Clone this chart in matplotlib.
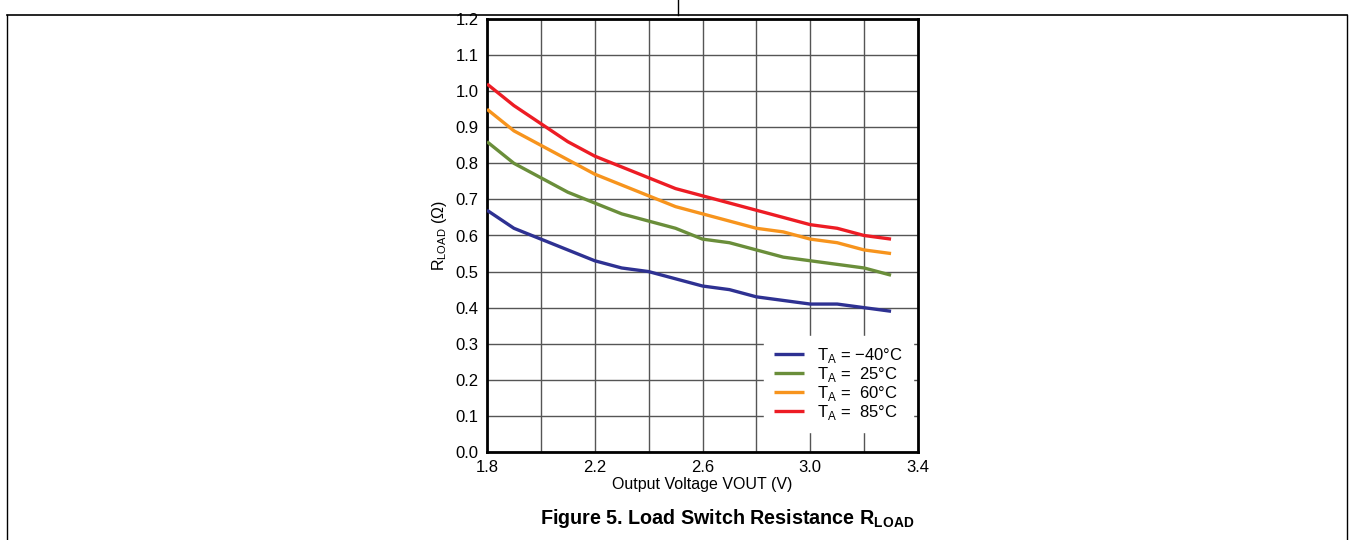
import numpy as np
import matplotlib
matplotlib.use("Agg")
import matplotlib.pyplot as plt
from matplotlib.lines import Line2D

plt.rcParams['font.family'] = ['Liberation Sans', 'DejaVu Sans']
plt.rcParams['mathtext.fontset'] = 'custom'
plt.rcParams['mathtext.rm'] = 'Liberation Sans'
plt.rcParams['mathtext.bf'] = 'Liberation Sans:bold'

vout = [1.8, 1.9, 2.0, 2.1, 2.2, 2.3, 2.4, 2.5, 2.6, 2.7, 2.8, 2.9, 3.0, 3.1, 3.2, 3.3]
r_m40 = [0.67, 0.62, 0.59, 0.56, 0.53, 0.51, 0.50, 0.48, 0.46, 0.45, 0.43, 0.42, 0.41, 0.41, 0.40, 0.39]
r_25 = [0.86, 0.80, 0.76, 0.72, 0.69, 0.66, 0.64, 0.62, 0.59, 0.58, 0.56, 0.54, 0.53, 0.52, 0.51, 0.49]
r_60 = [0.95, 0.89, 0.85, 0.81, 0.77, 0.74, 0.71, 0.68, 0.66, 0.64, 0.62, 0.61, 0.59, 0.58, 0.56, 0.55]
r_85 = [1.02, 0.96, 0.91, 0.86, 0.82, 0.79, 0.76, 0.73, 0.71, 0.69, 0.67, 0.65, 0.63, 0.62, 0.60, 0.59]

labels = [r'T$_{\rm A}$ = −40°C', r'T$_{\rm A}$ =  25°C', r'T$_{\rm A}$ =  60°C', r'T$_{\rm A}$ =  85°C']
colors = ['#2E3192', '#6A8E3A', '#F7941D', '#ED1C24']
series = [r_m40, r_25, r_60, r_85]

W, H = 1353, 540
fig = plt.figure(figsize=(W / 100, H / 100), dpi=100)

# page frame lines
fig.add_artist(Line2D([7 / W, 1347 / W], [1 - 15 / H, 1 - 15 / H], color='black', lw=1.2))
fig.add_artist(Line2D([678 / W, 678 / W], [1 - 15 / H, 1], color='black', lw=1.0))
fig.add_artist(Line2D([7 / W, 7 / W], [0, 1 - 15 / H], color='black', lw=1.0))
fig.add_artist(Line2D([1347 / W, 1347 / W], [0, 1 - 15 / H], color='black', lw=1.0))

ax = fig.add_axes([487 / W, 1 - 452 / H, (918 - 487) / W, (452 - 19) / H])

for s, c, lab in zip(series, colors, labels):
    ax.plot(vout, s, color=c, lw=2.4, label=lab, solid_capstyle='butt', zorder=3)

ax.set_xlim(1.8, 3.4)
ax.set_ylim(0, 1.2)
ax.set_xticks(np.arange(1.8, 3.41, 0.4))
ax.set_xticks(np.arange(1.8, 3.41, 0.2), minor=True)
ax.set_yticks(np.arange(0, 1.21, 0.1))
ax.xaxis.set_major_formatter(matplotlib.ticker.FormatStrFormatter('%.1f'))
ax.yaxis.set_major_formatter(matplotlib.ticker.FormatStrFormatter('%.1f'))
ax.grid(True, which='both', color='#555555', lw=1.0, zorder=1)
ax.tick_params(which='both', length=0, labelsize=12, pad=6)
for sp in ax.spines.values():
    sp.set_linewidth(2)

ax.set_xlabel('Output Voltage VOUT (V)', fontsize=11.5, labelpad=1)
ax.set_ylabel(r'R$_{\rm LOAD}$ (Ω)', fontsize=11.5, labelpad=5)

leg = ax.legend(loc='lower right', bbox_to_anchor=(1.007, 0.027), frameon=True, fontsize=12,
                handlelength=1.8, handletextpad=0.8, labelspacing=0.0, borderpad=0.6)
leg.get_frame().set_edgecolor('white')
leg.get_frame().set_facecolor('white')
leg.get_frame().set_alpha(1)
leg.set_zorder(5)

fig.text(727 / W, 1 - 518 / H, r'Figure 5. Load Switch Resistance R$_{\mathbf{LOAD}}$',
         ha='center', va='center', fontsize=14.2, fontweight='bold')

plt.savefig('out.png', dpi=100)
